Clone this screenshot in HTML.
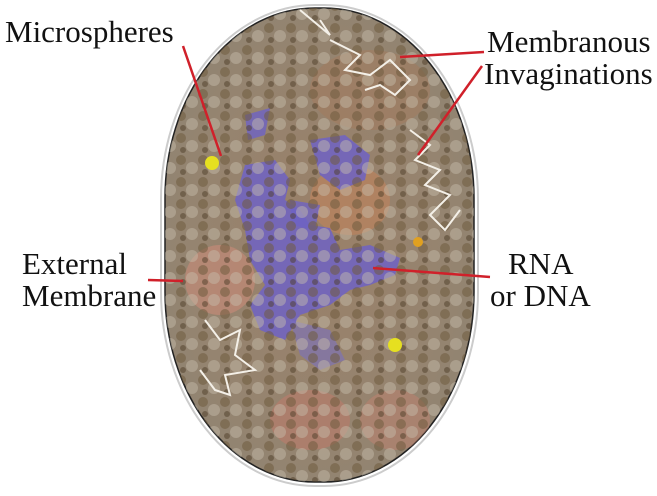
<!DOCTYPE html>
<html><head><meta charset="utf-8"><style>
html,body{margin:0;padding:0;background:#fff;}
svg{display:block}
</style></head><body>
<svg width="657" height="496" viewBox="0 0 657 496" xmlns="http://www.w3.org/2000/svg">
<defs>
<radialGradient id="g" cx="50%" cy="50%" r="60%">
<stop offset="0" stop-color="#9a8068"/><stop offset="0.7" stop-color="#958470"/><stop offset="1" stop-color="#8f8372"/>
</radialGradient>
<pattern id="dots" width="22" height="22" patternUnits="userSpaceOnUse">
<circle cx="5" cy="6" r="5" fill="#6e5a3e" opacity="0.55"/>
<circle cx="16" cy="14" r="6" fill="#c8bfae" opacity="0.45"/>
<circle cx="7" cy="18" r="3" fill="#4e3e28" opacity="0.5"/>
</pattern>
<clipPath id="c"><rect x="165" y="8" width="309" height="474" rx="150" ry="190"/></clipPath>
</defs>
<rect x="161" y="5" width="317" height="481" rx="154" ry="194" fill="none" stroke="#ccc" stroke-width="2"/>
<rect x="165" y="8" width="309" height="474" rx="150" ry="190" fill="url(#g)" stroke="#222" stroke-width="1.5"/>
<g clip-path="url(#c)">
<ellipse cx="220" cy="280" rx="35" ry="35" fill="#c98a78" opacity="0.6"/>
<ellipse cx="310" cy="420" rx="40" ry="30" fill="#c07a6a" opacity="0.55"/>
<ellipse cx="395" cy="420" rx="35" ry="30" fill="#c0806e" opacity="0.5"/>
<ellipse cx="350" cy="200" rx="40" ry="35" fill="#c4845a" opacity="0.55"/>
<ellipse cx="370" cy="90" rx="60" ry="40" fill="#a87858" opacity="0.4"/>
<path d="M245 165 L275 160 L290 180 L285 200 L300 210 L310 225 L330 228 L340 250 L370 245 L400 258 L395 275 L370 285 L350 290 L330 305 L300 315 L285 340 L260 330 L250 305 L265 285 L250 260 L245 230 L235 200 Z" fill="#6e63c4" opacity="0.85"/>
<path d="M310 140 L345 135 L370 155 L365 180 L340 190 L320 175 Z" fill="#6e63c4" opacity="0.85"/>
<path d="M245 115 L270 108 L265 135 L248 140 Z" fill="#6e63c4" opacity="0.8"/>
<path d="M290 200 L320 205 L315 230 L292 225 Z" fill="#6e63c4" opacity="0.8"/>
<path d="M290 320 L330 330 L345 360 L320 370 L300 355 Z" fill="#7a70c0" opacity="0.6"/>
<rect x="160" y="0" width="320" height="496" fill="url(#dots)"/>
<circle cx="212" cy="163" r="7" fill="#e6e020"/>
<circle cx="395" cy="345" r="7" fill="#e6e020"/>
<circle cx="418" cy="242" r="5" fill="#e0a020"/>
<g fill="none" stroke="#f4f0e8" stroke-width="2">
<path d="M330 40 L360 55 L345 70 L370 75 L390 60 L410 80 L395 95 L380 85 L365 90 M300 10 L330 35 L320 20"/>
<path d="M410 130 L430 145 L415 160 L440 170 L425 185 L450 195 L430 215 L445 230 L460 210"/>
<path d="M205 320 L220 340 L240 330 L235 355 L255 370 L225 375 L230 395 L215 390 L200 370"/>
</g>
</g>
<g stroke="#d0202a" stroke-width="2.5" fill="none">
<line x1="183" y1="46" x2="221" y2="156"/>
<line x1="484" y1="52" x2="400" y2="57"/>
<line x1="482" y1="66" x2="418" y2="155"/>
<line x1="148" y1="280" x2="183" y2="281"/>
<line x1="373" y1="268" x2="490" y2="277"/>
</g>
<g font-family="'Liberation Serif','DejaVu Serif',serif" font-size="31" fill="#111">
<text x="5" y="42">Microspheres</text>
<text x="487" y="52">Membranous</text>
<text x="484" y="84">Invaginations</text>
<text x="22" y="274">External</text>
<text x="22" y="306">Membrane</text>
<text x="508" y="274">RNA</text>
<text x="490" y="306">or DNA</text>
</g>
</svg>
</body></html>
